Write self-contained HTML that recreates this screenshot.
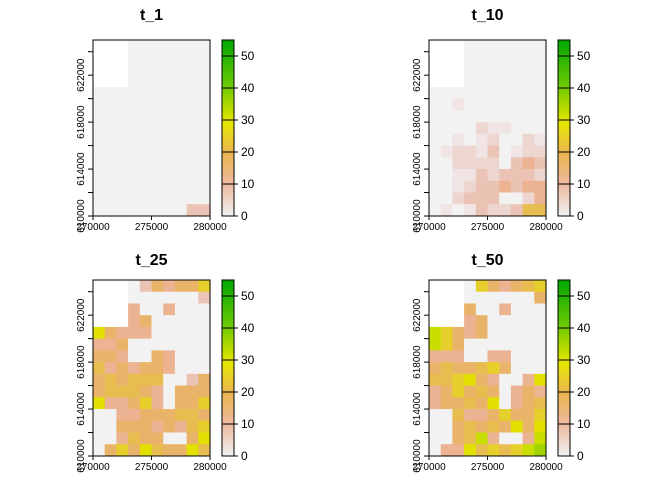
<!DOCTYPE html>
<html><head><meta charset="utf-8"><style>
html,body{margin:0;padding:0;background:#fff}
svg text{font-family:"Liberation Sans",sans-serif}
</style></head><body>
<svg id="s" width="672" height="480" xmlns="http://www.w3.org/2000/svg">
<defs><linearGradient id="g" x1="0" y1="1" x2="0" y2="0">
<stop offset="0" stop-color="#F2F2F2"/><stop offset="0.18" stop-color="#EEB99F"/>
<stop offset="0.36" stop-color="#EAB64E"/><stop offset="0.53" stop-color="#E6E600"/>
<stop offset="0.76" stop-color="#63C600"/><stop offset="1" stop-color="#00A600"/></linearGradient></defs>
</svg>
<script>
var P={W:null,'0':'#F2F2F2',a:'#F0E5E4',b:'#EDD6CF',c:'#EBC3B4',d:'#EBB391',e:'#E9B46A',f:'#E8BD50',g:'#E6CF2A',h:'#E1E000',i:'#C8DE00',j:'#A0D400'};
var t1=[],i;for(i=0;i<15;i++)t1.push(i<4?'WWW0000000':(i==14?'00000000cc':'0000000000'));
var t10=['WWW0000000','WWW0000000','WWW0000000','WWW0000000','0000000000','00a0000000','0000000000','0000baa000','00a0ab00ba','0abbac0abb','00bbbb0cdc','00aacbcccb','00abccdcdd','00bccc00bd','0a0acbbcff'];
var t25=['WWW0cedeeg','WWW000000c','WWWd00d000','WWWde00000','heddd00000','dde0000000','eed00ed000','fdedeed000','efefff00ce','efffed0eee','hddegd0eeg','00ddeeeffe','00eeededfg','00dfee00eh','0egehfeehf'];
var t50=['WWW0gedefg','WWW000000e','WWWe00d000','WWWde00000','igede00000','ige0000000','ddd00dd000','efeefge000','ffghed00dh','degefe0ded','deefeh0def','00fddegeeg','00efefeheh','00efid00di','0ddhfgfgij'];
var s=document.getElementById('s'),h='';
function panel(x0,y0,title,G,ty){
 var cw=11.7,ch=11.73;
 h+='<text x="'+(x0+58.5)+'" y="'+ty+'" font-size="16" font-weight="bold" text-anchor="middle">'+title+'</text>';
 for(var r=0;r<15;r++)for(var c=0;c<10;c++){var col=P[G[r][c]];if(col)h+='<rect x="'+(x0+c*cw).toFixed(2)+'" y="'+(y0+r*ch).toFixed(2)+'" width="'+(cw+0.3)+'" height="'+(ch+0.3)+'" fill="'+col+'"/>';}
 h+='<rect x="'+x0+'" y="'+y0+'" width="117" height="176" fill="none" stroke="#000" stroke-width="1"/>';
 for(var k=0;k<8;k++){var y=y0+176-k*23.47;h+='<line x1="'+(x0-5)+'" y1="'+y+'" x2="'+x0+'" y2="'+y+'" stroke="#000"/>';}
 ['610000','614000','618000','622000'].forEach(function(t,k){var y=y0+176-k*46.93;h+='<text transform="translate('+(x0-9)+','+y+') rotate(-90)" font-size="10" text-anchor="middle">'+t+'</text>';});
 [0,1,2].forEach(function(k){var x=x0+k*58.5;h+='<line x1="'+x+'" y1="'+(y0+176)+'" x2="'+x+'" y2="'+(y0+180)+'" stroke="#000"/><text x="'+x+'" y="'+(y0+190)+'" font-size="10" text-anchor="middle">'+(270000+k*5000)+'</text>';});
 var bx=x0+129;
 h+='<rect x="'+bx+'" y="'+y0+'" width="12" height="176" fill="url(#g)" stroke="#000"/>';
 for(var v=0;v<=50;v+=10){var y=y0+176-v*176/55;h+='<line x1="'+bx+'" y1="'+y+'" x2="'+(bx+12)+'" y2="'+y+'" stroke="#000"/><line x1="'+(bx+12)+'" y1="'+y+'" x2="'+(bx+16)+'" y2="'+y+'" stroke="#000"/><text x="'+(bx+19)+'" y="'+(y+4)+'" font-size="12">'+v+'</text>';}
}
panel(93,40,'t_1',t1,20);panel(429,40,'t_10',t10,20);panel(93,280,'t_25',t25,265);panel(429,280,'t_50',t50,265);
s.insertAdjacentHTML('beforeend',h);
</script>
</body></html>
